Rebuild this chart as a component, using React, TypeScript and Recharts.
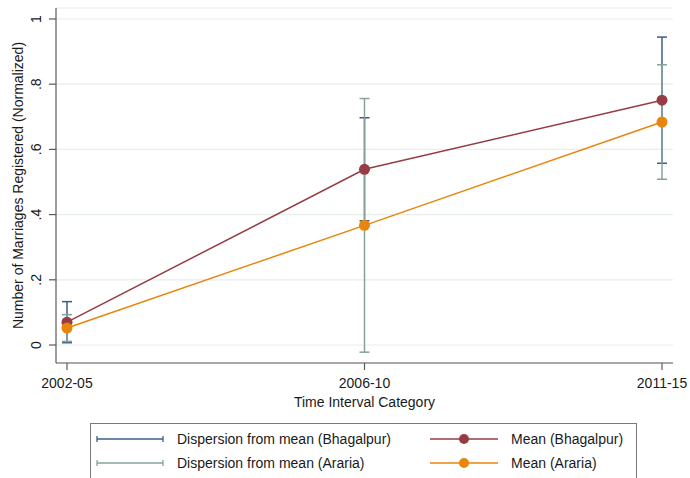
import React from 'react';
import { LineChart, Line, XAxis, YAxis, CartesianGrid, ErrorBar } from 'recharts';

const categories = ['2002-05', '2006-10', '2011-15'];
const meanBhagalpur = [0.07, 0.539, 0.751];
const sdBhagalpur = [0.063, 0.158, 0.1935];
const meanAraria = [0.052, 0.367, 0.684];
const sdAraria = [0.041, 0.389, 0.1755];
const yTicks = [0, 0.2, 0.4, 0.6, 0.8, 1];
const yTickLabels = ['0', '.2', '.4', '.6', '.8', '1'];

const seriesNames = {
  dispB: 'Dispersion from mean (Bhagalpur)',
  dispA: 'Dispersion from mean (Araria)',
  meanB: 'Mean (Bhagalpur)',
  meanA: 'Mean (Araria)',
};

const colors = {
  dispB: '#3a5e89',
  dispA: '#86a39b',
  meanB: '#953c44',
  meanA: '#e8850c',
  axis: '#5a5a5a',
  grid: '#e6eef0',
  text: '#1a1a1a',
};

const FONT = '"Liberation Sans", Arial, sans-serif';

const data = categories.map((c, i) => ({
  cat: c,
  mB: meanBhagalpur[i],
  sB: sdBhagalpur[i],
  mA: meanAraria[i],
  sA: sdAraria[i],
}));

const YTick = (props: any) => {
  const { y, payload } = props;
  const idx = yTicks.indexOf(payload.value);
  const label = idx >= 0 ? yTickLabels[idx] : String(payload.value);
  return (
    <text
      x={41}
      y={y}
      transform={`rotate(-90, 41, ${y})`}
      textAnchor="middle"
      fontSize={14}
      fontFamily={FONT}
      fill={colors.text}
    >
      {label}
    </text>
  );
};

const YTitle = (props: any) => {
  const vb = props.viewBox || { y: 8, height: 355 };
  const cy = vb.y + vb.height / 2;
  return (
    <text
      x={23}
      y={cy}
      transform={`rotate(-90, 23, ${cy})`}
      textAnchor="middle"
      fontSize={14}
      fontFamily={FONT}
      fill={colors.text}
    >
      Number of Marriages Registered (Normalized)
    </text>
  );
};

const XTitle = (props: any) => {
  const vb = props.viewBox || { x: 56, y: 363, width: 617 };
  const cx = vb.x + vb.width / 2;
  return (
    <text
      x={cx}
      y={407}
      textAnchor="middle"
      fontSize={14}
      fontFamily={FONT}
      fill={colors.text}
    >
      Time Interval Category
    </text>
  );
};

const ErrIcon = ({ color }: { color: string }) => (
  <svg width={68} height={10} style={{ display: 'block' }}>
    <line x1={1} y1={5} x2={67} y2={5} stroke={color} strokeWidth={1.3} />
    <line x1={1} y1={2} x2={1} y2={8} stroke={color} strokeWidth={1.3} />
    <line x1={67} y1={2} x2={67} y2={8} stroke={color} strokeWidth={1.3} />
  </svg>
);

const MeanIcon = ({ color }: { color: string }) => (
  <svg width={68} height={12} style={{ display: 'block' }}>
    <line x1={0} y1={6} x2={68} y2={6} stroke={color} strokeWidth={1.5} />
    <circle cx={34} cy={6} r={5} fill={color} />
  </svg>
);

const LegendBox = () => {
  const rowStyle = (top: number, left: number): React.CSSProperties => ({
    position: 'absolute',
    top,
    left,
    display: 'flex',
    alignItems: 'center',
    height: 20,
  });
  const textStyle: React.CSSProperties = {
    fontFamily: FONT,
    fontSize: 14,
    color: colors.text,
    whiteSpace: 'nowrap',
  };
  return (
    <div
      style={{
        position: 'absolute',
        left: 90,
        top: 423,
        width: 547,
        height: 70,
        border: '1px solid #7a7a7a',
        boxSizing: 'border-box',
        background: '#fff',
      }}
    >
      <div style={rowStyle(5, 5)}>
        <ErrIcon color={colors.dispB} />
        <span style={{ ...textStyle, marginLeft: 13 }}>{seriesNames.dispB}</span>
      </div>
      <div style={rowStyle(29, 5)}>
        <ErrIcon color={colors.dispA} />
        <span style={{ ...textStyle, marginLeft: 13 }}>{seriesNames.dispA}</span>
      </div>
      <div style={rowStyle(5, 339)}>
        <MeanIcon color={colors.meanB} />
        <span style={{ ...textStyle, marginLeft: 13 }}>{seriesNames.meanB}</span>
      </div>
      <div style={rowStyle(29, 339)}>
        <MeanIcon color={colors.meanA} />
        <span style={{ ...textStyle, marginLeft: 13 }}>{seriesNames.meanA}</span>
      </div>
    </div>
  );
};

export default function App() {
  return (
    <div
      style={{
        position: 'absolute',
        left: 0,
        top: 0,
        width: 690,
        height: 478,
        background: '#fff',
        overflow: 'hidden',
      }}
    >
      <LineChart
        width={690}
        height={478}
        data={data}
        margin={{ top: 8, right: 17, bottom: 70, left: 0 }}
      >
        <CartesianGrid horizontal vertical={false} stroke={colors.grid} strokeWidth={1.2} />
        <XAxis
          dataKey="cat"
          height={45}
          padding={{ left: 11, right: 11 }}
          tickSize={7}
          tickMargin={8}
          tick={{ fontSize: 14, fontFamily: FONT, fill: colors.text }}
          axisLine={{ stroke: colors.axis, strokeWidth: 1.2 }}
          tickLine={{ stroke: colors.axis, strokeWidth: 1.2 }}
          interval={0}
          label={XTitle}
        />
        <YAxis
          width={56}
          type="number"
          domain={[-0.0552, 1.0337]}
          allowDataOverflow
          ticks={yTicks}
          tickSize={7}
          tick={YTick}
          axisLine={{ stroke: colors.axis, strokeWidth: 1.2 }}
          tickLine={{ stroke: colors.axis, strokeWidth: 1.2 }}
          label={YTitle}
        />
        <Line
          dataKey="mB"
          stroke="none"
          dot={false}
          activeDot={false}
          legendType="none"
          isAnimationActive={false}
        >
          <ErrorBar dataKey="sB" width={5} stroke={colors.dispB} strokeWidth={1.5} direction="y" />
        </Line>
        <Line
          dataKey="mA"
          stroke="none"
          dot={false}
          activeDot={false}
          legendType="none"
          isAnimationActive={false}
        >
          <ErrorBar dataKey="sA" width={5} stroke={colors.dispA} strokeWidth={1.5} direction="y" />
        </Line>
        <Line
          dataKey="mB"
          name={seriesNames.meanB}
          stroke={colors.meanB}
          strokeWidth={1.5}
          dot={{ r: 5.5, fill: colors.meanB, stroke: colors.meanB, strokeWidth: 0 }}
          activeDot={false}
          isAnimationActive={false}
        />
        <Line
          dataKey="mA"
          name={seriesNames.meanA}
          stroke={colors.meanA}
          strokeWidth={1.5}
          dot={{ r: 5.5, fill: colors.meanA, stroke: colors.meanA, strokeWidth: 0 }}
          activeDot={false}
          isAnimationActive={false}
        />
      </LineChart>
      <LegendBox />
    </div>
  );
}
